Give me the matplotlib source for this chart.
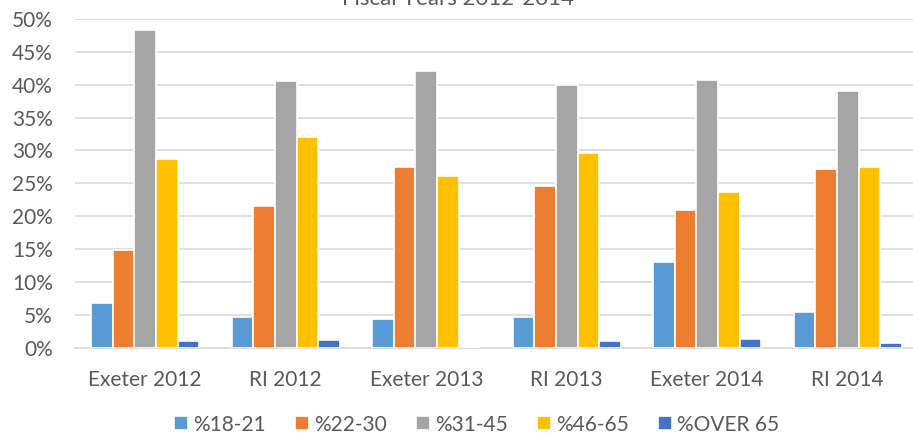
import matplotlib.pyplot as plt
import numpy as np

plt.rcParams['font.family'] = ['Lato', 'DejaVu Sans']

# Data
categories = ['Exeter 2012', 'RI 2012', 'Exeter 2013', 'RI 2013', 'Exeter 2014', 'RI 2014']
series_names = ['%18-21', '%22-30', '%31-45', '%46-65', '%OVER 65']
pct_18_21 = [6.8, 4.7, 4.3, 4.7, 13.1, 5.5]
pct_22_30 = [14.9, 21.5, 27.5, 24.6, 21.0, 27.1]
pct_31_45 = [48.3, 40.5, 42.0, 40.0, 40.7, 39.0]
pct_46_65 = [28.7, 32.0, 26.1, 29.6, 23.7, 27.5]
pct_over_65 = [1.06, 1.22, 0.0, 0.97, 1.27, 0.7]
colors = ['#5B9BD5', '#ED7D31', '#A5A5A5', '#FFC000', '#4472C4']

series = [pct_18_21, pct_22_30, pct_31_45, pct_46_65, pct_over_65]

fig = plt.figure(figsize=(9.13, 4.38), dpi=100)
ax = fig.add_axes([75 / 913, 0.206, 843 / 913, 0.751])

x = np.arange(len(categories))
pitch = 0.154
for i, (vals, name, c) in enumerate(zip(series, series_names, colors)):
    ax.bar(x + (i - 2) * pitch, vals, width=pitch, color=c, label=name,
           edgecolor='white', linewidth=1.2, zorder=3)

ax.set_xlim(-0.5, len(categories) - 0.5)
ax.set_ylim(0, 50)
ax.set_yticks(np.arange(0, 51, 5))
ax.set_yticklabels([f'{v}%' for v in range(0, 51, 5)])
ax.set_xticks(x)
ax.set_xticklabels(categories)
ax.grid(axis='y', color='#D9D9D9', linewidth=1.2, zorder=0)
for s in ['top', 'right', 'left']:
    ax.spines[s].set_visible(False)
ax.spines['bottom'].set_color('#D9D9D9')
ax.spines['bottom'].set_linewidth(1.2)
ax.tick_params(axis='both', length=0, labelsize=15, colors='#595959')
ax.tick_params(axis='x', pad=16)
ax.tick_params(axis='y', pad=16)

fig.text(458 / 913, 1 - 5 / 438, 'Fiscal Years 2012-2014', ha='center', va='baseline',
         fontsize=16, color='#595959')

fig.legend(loc='lower center', bbox_to_anchor=(0.522, -0.035), ncol=5, frameon=False,
           fontsize=15, handlelength=0.67, handleheight=0.67, handletextpad=0.25,
           columnspacing=1.4, labelcolor='#595959')

fig.savefig('out.png', dpi=100)
